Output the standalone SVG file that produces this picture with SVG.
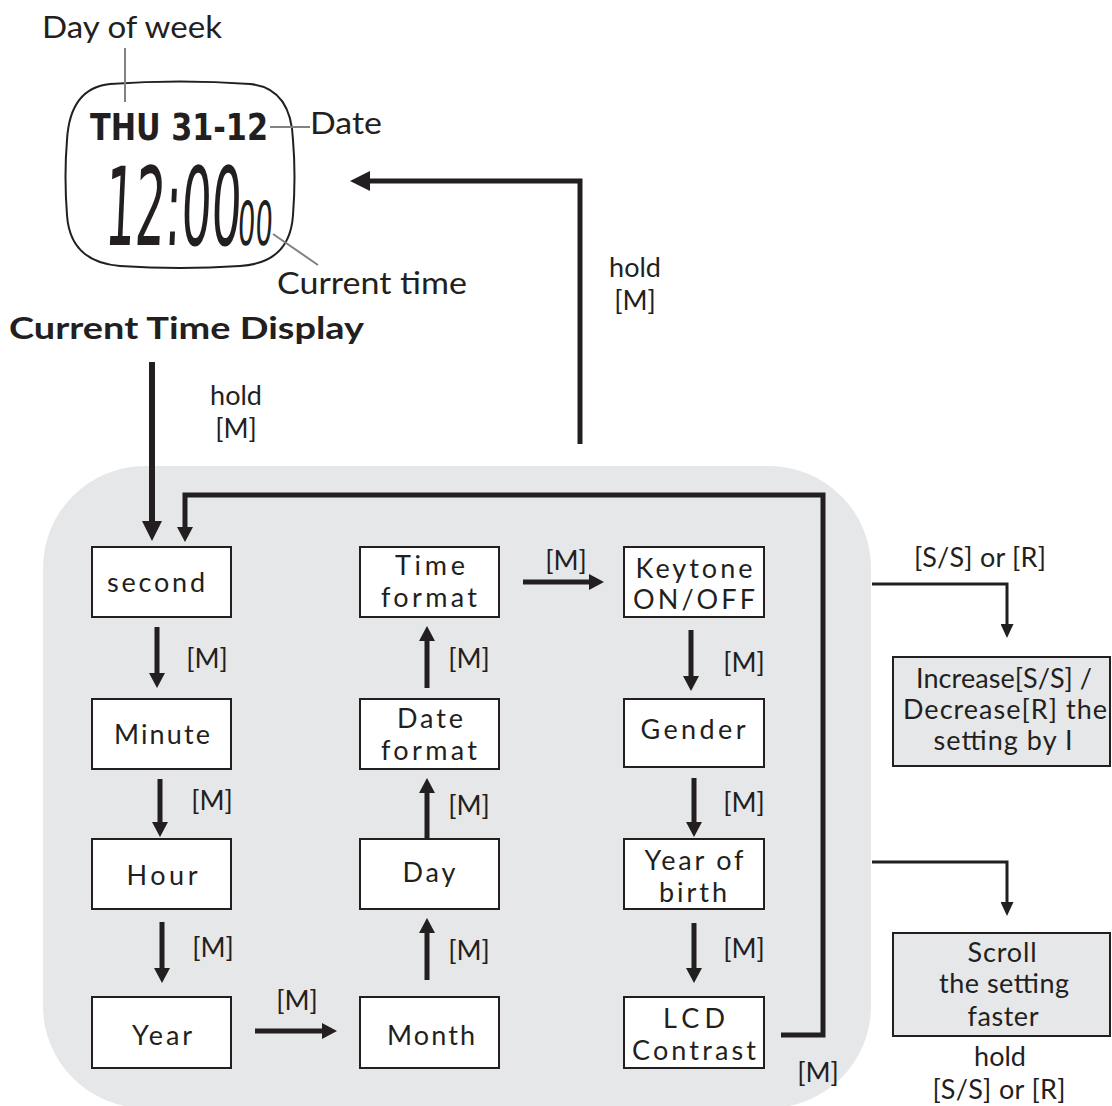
<svg xmlns="http://www.w3.org/2000/svg" width="1112" height="1106" viewBox="0 0 1112 1106">
<style>
.t{font-family:Lato,"Open Sans","Liberation Sans",sans-serif;font-size:27px;fill:#231f20;text-anchor:middle}
.lb{font-family:Lato,"Open Sans","Liberation Sans",sans-serif;font-size:30px;fill:#231f20}
.box{fill:#fff;stroke:#231f20;stroke-width:2}
.gbox{fill:#e6e7e8;stroke:#231f20;stroke-width:2}
.c5{fill:none;stroke:#231f20;stroke-width:5;stroke-linejoin:miter}
.c6{fill:none;stroke:#231f20;stroke-width:6}
.c3{fill:none;stroke:#231f20;stroke-width:3}
.lead{fill:none;stroke:#808285;stroke-width:2}
.lcd{font-family:"Liberation Sans Narrow","DejaVu Sans Condensed",sans-serif;fill:#231f20}
</style>
<defs>
<marker id="ahL" markerUnits="userSpaceOnUse" markerWidth="20" markerHeight="20" refX="4" refY="10" orient="auto"><path d="M0,0 L20,10 L0,20 z" fill="#231f20"/></marker>
<marker id="ahS" markerUnits="userSpaceOnUse" markerWidth="15" markerHeight="16" refX="3" refY="8" orient="auto"><path d="M0,0 L15,8 L0,16 z" fill="#231f20"/></marker>
<marker id="ahT" markerUnits="userSpaceOnUse" markerWidth="14" markerHeight="13" refX="3" refY="6.5" orient="auto"><path d="M0,0 L14,6.5 L0,13 z" fill="#231f20"/></marker>
</defs>
<rect width="1112" height="1106" fill="#fff"/>
<rect x="43" y="466" width="828" height="642" rx="102" ry="102" fill="#e6e7e8"/>

<g id="display">
<path d="M110,84 Q180,79 250,84 Q291,88 293,140 Q296,176 293,215 Q290,263 240,266 Q180,270 120,266 Q70,262 67,215 Q64,176 67,140 Q70,88 110,84 Z" fill="#fff" stroke="#231f20" stroke-width="2"/>
<text class="lcd" x="90" y="140" font-size="38" font-weight="bold" textLength="178" lengthAdjust="spacingAndGlyphs">THU 31-12</text>
<text class="lcd" transform="translate(104,245) scale(1,1.6) skewX(-4)" x="0" y="0" font-size="68" textLength="136" lengthAdjust="spacingAndGlyphs">12:00</text>
<text class="lcd" transform="translate(237,245) scale(1,1.6) skewX(-4)" x="0" y="0" font-size="38" textLength="35" lengthAdjust="spacingAndGlyphs">00</text>
<path class="lead" d="M125,48 V102 M270,127 H310 M273,234 L318,265"/>
<text class="lb" x="42" y="38" textLength="180" lengthAdjust="spacingAndGlyphs">Day of week</text>
<text class="lb" x="310" y="134" textLength="72" lengthAdjust="spacingAndGlyphs">Date</text>
<text class="lb" x="277" y="294" textLength="190" lengthAdjust="spacingAndGlyphs">Current time</text>
<text class="lb" x="9" y="339" font-size="32" font-weight="bold" textLength="355" lengthAdjust="spacingAndGlyphs">Current Time Display</text>
</g>

<g id="connectors">
<path class="c6" d="M152,362 V525" marker-end="url(#ahL)"/>
<path class="c5" d="M580,444 V181 H366" marker-end="url(#ahL)"/>
<path class="c5" d="M781,1035 H823 V495 H185 V530" marker-end="url(#ahS)"/>
<path class="c5" d="M157,627 V676" marker-end="url(#ahS)"/>
<path class="c5" d="M160,779 V825" marker-end="url(#ahS)"/>
<path class="c5" d="M162,922 V971" marker-end="url(#ahS)"/>
<path class="c5" d="M255,1031 H325" marker-end="url(#ahS)"/>
<path class="c5" d="M427,980 V930" marker-end="url(#ahS)"/>
<path class="c5" d="M427,839 V790" marker-end="url(#ahS)"/>
<path class="c5" d="M427,688 V638" marker-end="url(#ahS)"/>
<path class="c5" d="M523,582 H592" marker-end="url(#ahS)"/>
<path class="c5" d="M691,630 V679" marker-end="url(#ahS)"/>
<path class="c5" d="M694,778 V825" marker-end="url(#ahS)"/>
<path class="c5" d="M694,923 V971" marker-end="url(#ahS)"/>
<path class="c3" d="M872,584 H1007 V627" marker-end="url(#ahT)"/>
<path class="c3" d="M872,862 H1007 V905" marker-end="url(#ahT)"/>
<text class="t" x="236" y="405">hold</text>
<text class="t" x="236" y="438">[M]</text>
<text class="t" x="635" y="277">hold</text>
<text class="t" x="635" y="310">[M]</text>
<text class="t" x="207" y="668">[M]</text>
<text class="t" x="212" y="810">[M]</text>
<text class="t" x="213" y="957">[M]</text>
<text class="t" x="297" y="1010">[M]</text>
<text class="t" x="469" y="960">[M]</text>
<text class="t" x="469" y="815">[M]</text>
<text class="t" x="469" y="668">[M]</text>
<text class="t" x="566" y="570">[M]</text>
<text class="t" x="744" y="672">[M]</text>
<text class="t" x="744" y="812">[M]</text>
<text class="t" x="744" y="958">[M]</text>
<text class="t" x="818" y="1082">[M]</text>
<text class="t" x="980" y="567" textLength="132">[S/S] or [R]</text>
<text class="t" x="1000" y="1066">hold</text>
<text class="t" x="999" y="1099" textLength="133">[S/S] or [R]</text>
</g>

<g id="n-second"><rect class="box" x="92" y="547" width="139" height="70"/><text class="t" x="156" y="592" textLength="98">second</text></g>
<g id="n-minute"><rect class="box" x="92" y="699" width="139" height="70"/><text class="t" x="162" y="744" textLength="96">Minute</text></g>
<g id="n-hour"><rect class="box" x="92" y="839" width="139" height="70"/><text class="t" x="162" y="885" textLength="71">Hour</text></g>
<g id="n-year"><rect class="box" x="92" y="997" width="139" height="71"/><text class="t" x="162" y="1045" textLength="60">Year</text></g>
<g id="n-timeformat"><rect class="box" x="360" y="547" width="139" height="70"/><text class="t" x="430" y="575" textLength="70">Time</text><text class="t" x="429" y="607" textLength="96">format</text></g>
<g id="n-dateformat"><rect class="box" x="360" y="699" width="139" height="70"/><text class="t" x="430" y="728" textLength="66">Date</text><text class="t" x="429" y="760" textLength="96">format</text></g>
<g id="n-day"><rect class="box" x="360" y="839" width="139" height="70"/><text class="t" x="429" y="882" textLength="53">Day</text></g>
<g id="n-month"><rect class="box" x="360" y="997" width="139" height="71"/><text class="t" x="431" y="1045" textLength="88">Month</text></g>
<g id="n-keytone"><rect class="box" x="624" y="547" width="140" height="70"/><text class="t" x="694" y="578" textLength="117">Keytone</text><text class="t" x="694" y="609" textLength="122">ON/OFF</text></g>
<g id="n-gender"><rect class="box" x="624" y="699" width="140" height="68"/><text class="t" x="693" y="739" textLength="105">Gender</text></g>
<g id="n-yearofbirth"><rect class="box" x="624" y="839" width="140" height="70"/><text class="t" x="694" y="870" textLength="99">Year of</text><text class="t" x="693" y="902" textLength="68">birth</text></g>
<g id="n-lcd"><rect class="box" x="624" y="997" width="140" height="71"/><text class="t" x="694" y="1028" textLength="62">LCD</text><text class="t" x="694" y="1060" textLength="124">Contrast</text></g>
<g id="n-increase"><rect class="gbox" x="893" y="657" width="217" height="109"/><text class="t" x="1004" y="688" textLength="176">Increase[S/S] /</text><text class="t" x="1005" y="719" textLength="204">Decrease[R] the</text><text class="t" x="1003" y="750" textLength="139">setting by I</text></g>
<g id="n-scroll"><rect class="gbox" x="893" y="933" width="217" height="103"/><text class="t" x="1002" y="962" textLength="69">Scroll</text><text class="t" x="1004" y="993" textLength="130">the setting</text><text class="t" x="1003" y="1026" textLength="71">faster</text></g>
</svg>
